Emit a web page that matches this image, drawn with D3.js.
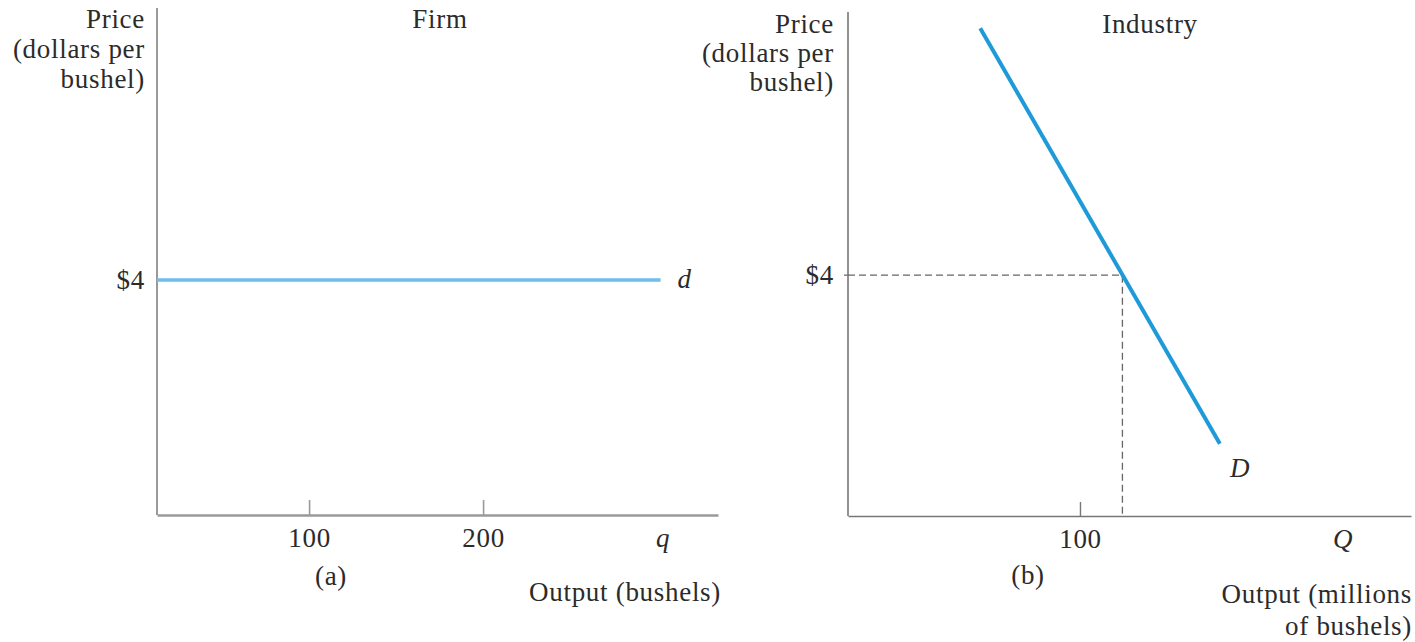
<!DOCTYPE html>
<html>
<head>
<meta charset="utf-8">
<script src="https://cdn.jsdelivr.net/npm/d3@7/dist/d3.min.js"></script>
<style>
  html, body { margin: 0; padding: 0; background: #fff; }
  svg text { font-family: "Liberation Serif", "Times New Roman", serif; font-size: 27px; fill: #2b2b2b; letter-spacing: 0.7px; }
</style>
</head>
<body>
<svg id="chart" width="1415" height="642"></svg>
<script>
// ---------- data ----------
const priceLevel = 4;                       // $4 market price
const priceTickLabel = "$4";
const firmTicks = [100, 200];               // output (bushels)
const firmDemandQ = [12.6, 302];            // horizontal d curve, from axis to end
const industryTicks = [100];                // output (millions of bushels)
const industryDemand = [                    // D curve: quantity, price
  { q: 57, p: 8.1 },
  { q: 160.3, p: 1.2 }
];
const equilibriumQ = 118.3;                 // where D crosses $4

const svg = d3.select("#chart");
const FONT = '"Liberation Serif", "Times New Roman", serif';

// ---------- left panel (Firm) ----------
const xL = d3.scaleLinear().domain([12.6, 335]).range([157, 718]);
const yL = d3.scaleLinear().domain([0, 8.63]).range([515, 8]);

const gL = svg.append("g");
gL.append("line")
  .attr("x1", xL(xL.domain()[0])).attr("x2", xL(xL.domain()[0]))
  .attr("y1", yL(0)).attr("y2", yL(yL.domain()[1]))
  .attr("stroke", "#9a9a9a").attr("stroke-width", 2);

const axL = gL.append("g").attr("transform", `translate(0,${yL(0)})`)
  .call(d3.axisBottom(xL).tickValues(firmTicks).tickSizeInner(-15).tickSizeOuter(0).tickPadding(13));
axL.select(".domain").attr("stroke", "#9a9a9a").attr("stroke-width", 2.5);
axL.selectAll(".tick line").attr("stroke", "#9a9a9a").attr("stroke-width", 1.6);
axL.selectAll(".tick text").attr("fill", "#2b2b2b").style("font-size", "27px").style("font-family", FONT);

gL.append("line")
  .attr("x1", xL(firmDemandQ[0])).attr("x2", xL(firmDemandQ[1]))
  .attr("y1", yL(priceLevel)).attr("y2", yL(priceLevel))
  .attr("stroke", "#6fbdea").attr("stroke-width", 3.5);

gL.append("text").attr("x", 145).attr("y", yL(priceLevel) + 9).attr("text-anchor", "end").text(priceTickLabel);
gL.append("text").attr("x", xL(firmDemandQ[1]) + 17).attr("y", yL(priceLevel) + 8).attr("font-style", "italic").text("d");

["Price", "(dollars per", "bushel)"].forEach((t, i) =>
  gL.append("text").attr("x", 145).attr("y", 28 + i * 30).attr("text-anchor", "end").text(t));
gL.append("text").attr("x", 440).attr("y", 28).attr("text-anchor", "middle").text("Firm");
gL.append("text").attr("x", 663).attr("y", 547).attr("text-anchor", "middle").attr("font-style", "italic").text("q");
gL.append("text").attr("x", 331).attr("y", 585).attr("text-anchor", "middle").text("(a)");
gL.append("text").attr("x", 721).attr("y", 601).attr("text-anchor", "end").text("Output (bushels)");

// ---------- right panel (Industry) ----------
const xR = d3.scaleLinear().domain([0, 242.7]).range([848, 1411]);
const yR = d3.scaleLinear().domain([0, 8.37]).range([516, 12]);

const gR = svg.append("g");
gR.append("line")
  .attr("x1", xR(0)).attr("x2", xR(0))
  .attr("y1", yR(0)).attr("y2", yR(yR.domain()[1]))
  .attr("stroke", "#777").attr("stroke-width", 1.6);

const axR = gR.append("g").attr("transform", `translate(0,${yR(0)})`)
  .call(d3.axisBottom(xR).tickValues(industryTicks).tickSizeInner(-14).tickSizeOuter(0).tickPadding(13));
axR.select(".domain").attr("stroke", "#777").attr("stroke-width", 1.6);
axR.selectAll(".tick line").attr("stroke", "#777").attr("stroke-width", 1.4);
axR.selectAll(".tick text").attr("fill", "#2b2b2b").style("font-size", "27px").style("font-family", FONT);

gR.append("line").attr("x1", xR(0) - 4).attr("x2", xR(0))
  .attr("y1", yR(priceLevel)).attr("y2", yR(priceLevel))
  .attr("stroke", "#777").attr("stroke-width", 1.4);

gR.append("path")
  .attr("d", `M${xR(0)},${yR(priceLevel)}H${xR(equilibriumQ)}V${yR(0)}`)
  .attr("fill", "none").attr("stroke", "#666").attr("stroke-width", 1.3)
  .attr("stroke-dasharray", "7,4");

gR.append("path")
  .datum(industryDemand)
  .attr("d", d3.line().x(d => xR(d.q)).y(d => yR(d.p)))
  .attr("fill", "none").attr("stroke", "#1e9ad8").attr("stroke-width", 4);

gR.append("text").attr("x", 834).attr("y", yR(priceLevel) + 9).attr("text-anchor", "end").text(priceTickLabel);
gR.append("text").attr("x", 1240).attr("y", 477).attr("text-anchor", "middle").attr("font-style", "italic").text("D");

["Price", "(dollars per", "bushel)"].forEach((t, i) =>
  gR.append("text").attr("x", 834).attr("y", 33 + i * 29).attr("text-anchor", "end").text(t));
gR.append("text").attr("x", 1150).attr("y", 33).attr("text-anchor", "middle").text("Industry");
gR.append("text").attr("x", 1343).attr("y", 548).attr("text-anchor", "middle").attr("font-style", "italic").text("Q");
gR.append("text").attr("x", 1028).attr("y", 584).attr("text-anchor", "middle").text("(b)");
gR.append("text").attr("x", 1412).attr("y", 603).attr("text-anchor", "end").text("Output (millions");
gR.append("text").attr("x", 1412).attr("y", 635).attr("text-anchor", "end").text("of bushels)");
</script>
</body>
</html>
